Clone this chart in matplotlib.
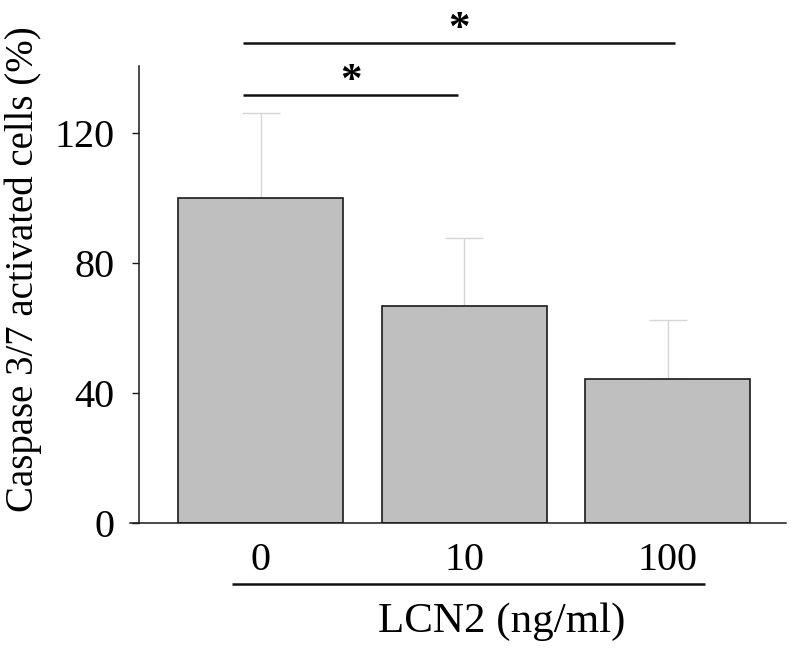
import matplotlib
matplotlib.use("Agg")
import matplotlib.pyplot as plt
import numpy as np

plt.rcParams['font.family'] = ['Liberation Serif', 'DejaVu Serif']

categories = ['0', '10', '100']
means = [100.0, 66.8, 44.3]
errors_upper = [26.0, 20.9, 18.2]
yticks = [0, 40, 80, 120]
ylabel = 'Caspase 3/7 activated cells (%)'
xlabel = 'LCN2 (ng/ml)'
sig_pairs = [(0, 1, '*'), (0, 2, '*')]

fig = plt.figure(figsize=(8, 6.6), dpi=100)
ax = fig.add_axes([0.174, 0.2076, 0.8135, 0.6924])

x = np.arange(len(categories))
ax.bar(x, means, width=0.81, color='#c0bfc0', edgecolor='#1a1a1a', linewidth=1.2, zorder=2)
ax.errorbar(x, means, yerr=[np.zeros(len(means)), errors_upper], fmt='none',
            ecolor='#d6d6d6', elinewidth=1.0, capsize=13.7, capthick=1.0, zorder=1)

ax.set_xlim(-0.597, 2.60)
ax.set_ylim(0, 140.6)
ax.set_yticks(yticks)
ax.set_yticklabels([str(t) for t in yticks], fontsize=29)
ax.set_xticks(x)
ax.set_xticklabels(categories, fontsize=29)
ax.tick_params(axis='x', length=0, pad=14)
ax.tick_params(axis='y', length=5, width=1.0, pad=13, colors='#1a1a1a', labelcolor='black')

for s in ['top', 'right']:
    ax.spines[s].set_visible(False)
for s in ['left', 'bottom']:
    ax.spines[s].set_linewidth(1.1)
    ax.spines[s].set_color('#1a1a1a')
ax.spines['bottom'].set_bounds(-0.64, 2.58)

# y-axis title
fig.text(23 / 800, 1 - 269 / 660, ylabel, rotation=90, ha='center', va='center', fontsize=28)

# Significance bars
sig_y = {1: 131.7, 2: 147.7}
for (a, b, mark) in sig_pairs:
    yv = sig_y[b]
    xa = a - 0.086
    xb = b + 0.035 if b == 2 else b - 0.03
    ax.plot([xa, xb], [yv, yv], color='#111111', lw=1.8, clip_on=False, solid_capstyle='butt')
    ax.text((xa + xb) / 2, yv - 1.9, mark, ha='center', va='bottom', fontsize=31,
            clip_on=False, fontweight='bold')

# Line under category labels and axis title
ax.plot([-0.14, 2.18], [-18.8, -18.8], color='#111111', lw=1.8, clip_on=False, solid_capstyle='butt')
fig.text(502 / 800, 1 - 632 / 660, xlabel, ha='center', va='baseline', fontsize=31)

fig.savefig('out.png', dpi=100, facecolor='white')
